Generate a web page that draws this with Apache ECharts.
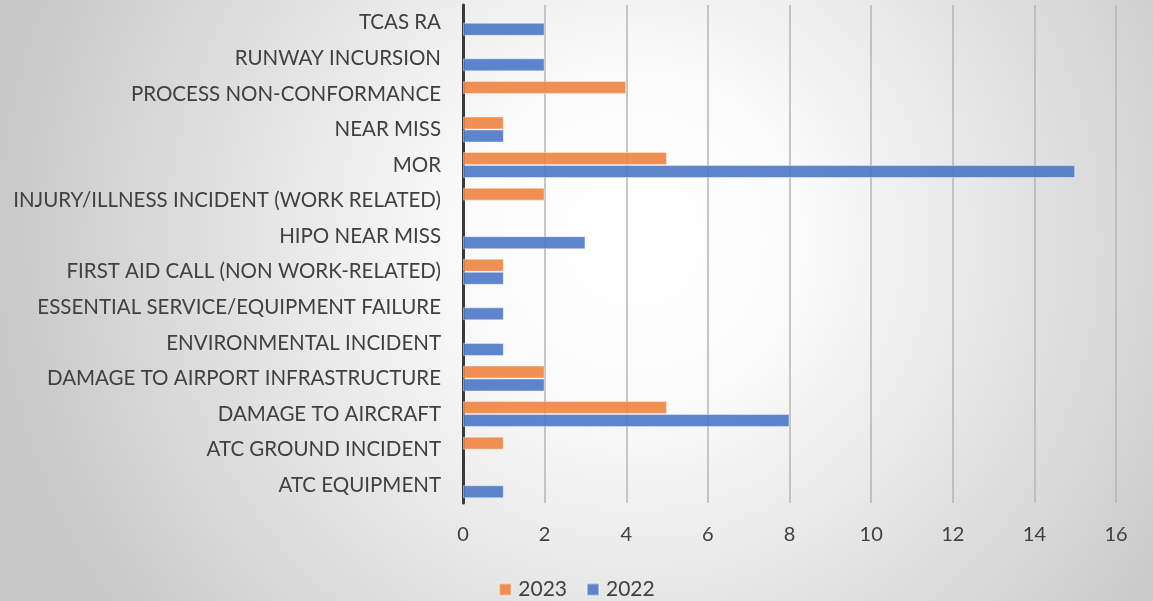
<!DOCTYPE html>
<html>
<head>
<meta charset="utf-8">
<script src="https://cdn.jsdelivr.net/npm/echarts@6/dist/echarts.min.js"></script>
<style>
html,body{margin:0;padding:0;}
#main{width:1153px;height:601px;}
</style>
</head>
<body>
<div id="main"></div>
<script>
const categories = [
  'ATC EQUIPMENT',
  'ATC GROUND INCIDENT',
  'DAMAGE TO AIRCRAFT',
  'DAMAGE TO AIRPORT INFRASTRUCTURE',
  'ENVIRONMENTAL INCIDENT',
  'ESSENTIAL SERVICE/EQUIPMENT FAILURE',
  'FIRST AID CALL (NON WORK-RELATED)',
  'HIPO NEAR MISS',
  'INJURY/ILLNESS INCIDENT (WORK RELATED)',
  'MOR',
  'NEAR MISS',
  'PROCESS NON-CONFORMANCE',
  'RUNWAY INCURSION',
  'TCAS RA'
];
const values2023 = [null, 1, 5, 2, null, null, 1, null, 2, 5, 1, 4, null, null];
const values2022 = [1, null, 8, 2, 1, 1, 1, 3, null, 15, 1, null, 2, 2];
const xTicks = [0, 2, 4, 6, 8, 10, 12, 14, 16];

const chart = echarts.init(document.getElementById('main'));
const font = 'Lato, "Open Sans", sans-serif';
chart.setOption({
  backgroundColor: {
    type: 'radial', x: 0.55, y: 0.4, r: 1.1,
    colorStops: [
      {offset: 0, color: '#ffffff'},
      {offset: 0.25, color: '#fbfbfb'},
      {offset: 1, color: '#c6c6c6'}
    ]
  },
  animation: false,
  textStyle: {fontFamily: font},
  grid: {left: 463, right: 37, top: 5, bottom: 98, containLabel: false},
  legend: {
    data: ['2023', '2022'],
    top: 574,
    left: 'center',
    itemWidth: 12, itemHeight: 12, itemGap: 19,
    icon: 'rect',
    textStyle: {fontSize: 21, color: '#404040', fontFamily: font, padding: [0, 0, 0, 2]}
  },
  xAxis: {
    type: 'value',
    min: xTicks[0], max: xTicks[xTicks.length - 1], interval: 2,
    axisLine: {show: false},
    axisTick: {show: false},
    axisLabel: {fontSize: 20, color: '#404040', margin: 22, fontFamily: font},
    splitLine: {show: true, lineStyle: {color: '#b4b4b4', width: 1.5}}
  },
  yAxis: {
    type: 'category',
    data: categories,
    axisLine: {show: true, lineStyle: {color: '#3a3a3a', width: 3}},
    axisTick: {show: false},
    axisLabel: {fontSize: 20.5, color: '#404040', margin: 22, fontFamily: font, padding: [0, 0, 3, 0]}
  },
  series: [
    {
      name: '2023', type: 'bar', data: values2023,
      barWidth: 13, barGap: '0%',
      itemStyle: {color: '#ee8440', opacity: 0.9, borderColor: 'rgba(255,255,255,0.45)', borderWidth: 1}
    },
    {
      name: '2022', type: 'bar', data: values2022,
      barWidth: 13, barGap: '0%',
      itemStyle: {color: '#4a78c8', opacity: 0.9, borderColor: 'rgba(255,255,255,0.45)', borderWidth: 1}
    }
  ]
});
</script>
</body>
</html>
